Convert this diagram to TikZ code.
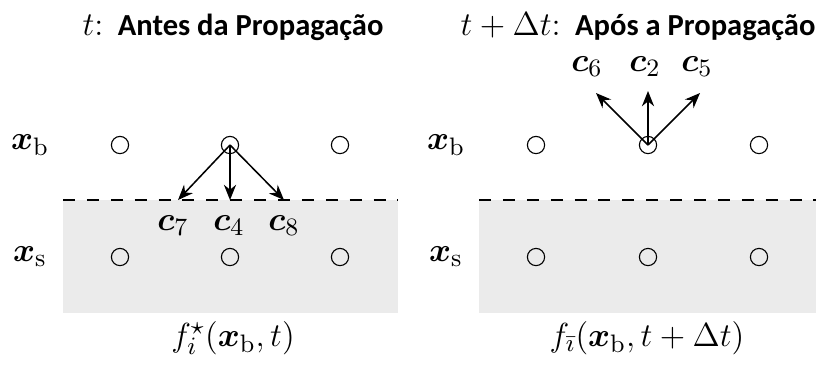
\documentclass[tikz,border=0pt]{standalone}
\usepackage{fontspec}
\usepackage{bm}
\usetikzlibrary{arrows.meta}
\newfontfamily\titlefont{Carlito}
\definecolor{wallgray}{HTML}{EBEBEB}

\begin{document}
\begin{tikzpicture}[x=0.36pt,y=-0.36pt,every node/.style={font=\fontsize{13}{15}\selectfont},
  site/.style={circle,draw,line width=0.4pt,inner sep=0pt,minimum size=6.2pt},
  wall/.style={fill=wallgray,draw=none},
  interface/.style={line width=0.7pt,dash pattern=on 4.3pt off 4.3pt},
  stream/.style={line width=0.55pt,-{Stealth[length=5.5pt,width=4.4pt]}},
  heading/.style={font=\large}]
  \useasboundingbox (0,0) rectangle (822,368);
  % antes da propagacao
  \node[heading] (titleA) at (233,27) {$t$: {\titlefont\fontsize{11}{13}\selectfont\bfseries Antes da Propagação}};
  \fill[wall] (63,200) rectangle (398,313);
  \coordinate (dA1) at (63,200);
  \coordinate (dA2) at (398,200);
  \draw[interface] (dA1) -- (dA2);
  \node (xbA) at (30,145) {$\bm{x}_{\mathrm{b}}$};
  \node (xsA) at (30,257) {$\bm{x}_{\mathrm{s}}$};
  \foreach \i/\x in {1/120,2/230,3/340} {
    \node[site] (bA\i) at (\x,145) {};
    \node[site] (sA\i) at (\x,257) {};
  }
  \coordinate (e7) at (178,200);
  \coordinate (e4) at (230,200);
  \coordinate (e8) at (284,200);
  \draw[stream] (bA2.center) -- (e7);
  \draw[stream] (bA2.center) -- (e4);
  \draw[stream] (bA2.center) -- (e8);
  \node (c7) at (173,226) {$\bm{c}_7$};
  \node (c4) at (229,226) {$\bm{c}_4$};
  \node (c8) at (284,226) {$\bm{c}_8$};
  \node (fA) at (233,338) {$f_i^{\star}(\bm{x}_{\mathrm{b}},t)$};
  % apos a propagacao
  \node[heading] (titleB) at (638,27) {$t+\Delta t$: {\titlefont\fontsize{11}{13}\selectfont\bfseries Após a Propagação}};
  \fill[wall] (479,200) rectangle (816,313);
  \coordinate (dB1) at (479,200);
  \coordinate (dB2) at (816,200);
  \draw[interface] (dB1) -- (dB2);
  \node (xbB) at (446,145) {$\bm{x}_{\mathrm{b}}$};
  \node (xsB) at (446,257) {$\bm{x}_{\mathrm{s}}$};
  \foreach \i/\x in {1/536,2/648,3/759} {
    \node[site] (bB\i) at (\x,145) {};
    \node[site] (sB\i) at (\x,257) {};
  }
  \coordinate (e6) at (596,93);
  \coordinate (e2) at (648,91);
  \coordinate (e5) at (700,93);
  \draw[stream] (bB2.center) -- (e6);
  \draw[stream] (bB2.center) -- (e2);
  \draw[stream] (bB2.center) -- (e5);
  \node (c6) at (587,67) {$\bm{c}_6$};
  \node (c2) at (645,67) {$\bm{c}_2$};
  \node (c5) at (697,67) {$\bm{c}_5$};
  \node (fB) at (647,338) {$f_{\bar{\imath}}(\bm{x}_{\mathrm{b}},t+\Delta t)$};
\end{tikzpicture}
\end{document}
